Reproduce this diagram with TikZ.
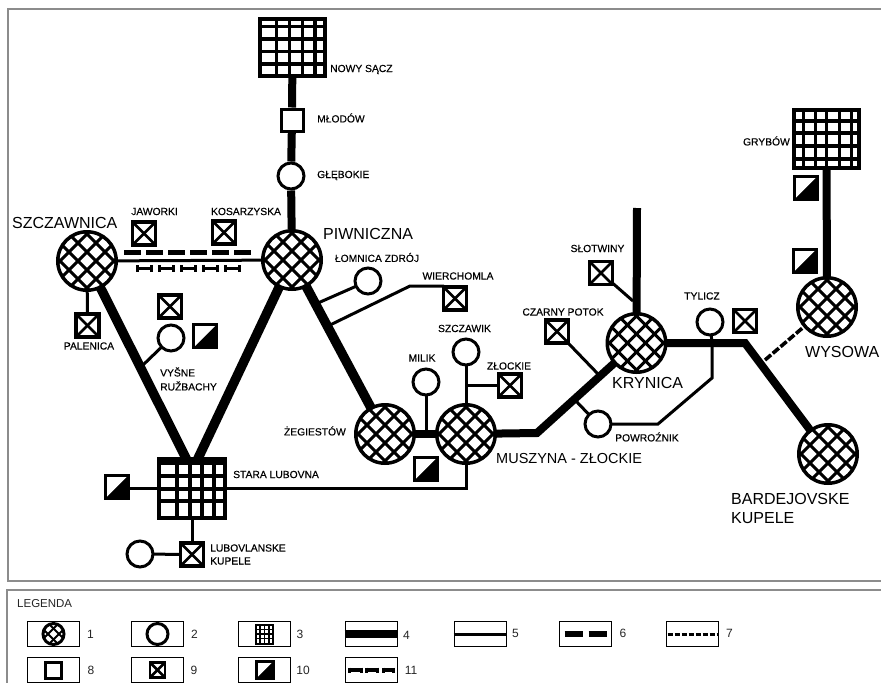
\documentclass[tikz,border=0pt]{standalone}
\usepackage{fontspec}
\setmainfont{Liberation Sans}
\newfontfamily\labfont{Liberation Sans}[FakeBold=0.35]
\usetikzlibrary{backgrounds}
\newcommand{\gridlines}[2]{%
  \foreach \gx in {#1}{\draw[line width=3.2pt,black] ([xshift=\gx pt]path picture bounding box.north) -- ([xshift=\gx pt]path picture bounding box.south);}%
  \foreach \gy in {#2}{\draw[line width=3.2pt,black] ([yshift=-\gy pt]path picture bounding box.west) -- ([yshift=-\gy pt]path picture bounding box.east);}%
}
\newcommand{\hatchlines}[3]{%
  \foreach \ho in {#1}{%
    \pgfmathsetmacro{\hl}{\ho-#3}\pgfmathsetmacro{\hr}{\ho+#3}%
    \draw[line width=#2,black] ([xshift=\hl pt,yshift=-#3 pt]path picture bounding box.center) -- ([xshift=\hr pt,yshift=#3 pt]path picture bounding box.center);
    \draw[line width=#2,black] ([xshift=\hl pt,yshift=#3 pt]path picture bounding box.center) -- ([xshift=\hr pt,yshift=-#3 pt]path picture bounding box.center);
  }%
}
\tikzset{
  x=1pt,y=-1pt,
  hcirc/.style={circle,draw,fill=white,line width=3.5pt,minimum size=58.5pt,inner sep=0pt,
    path picture={\hatchlines{-45,-27,-9,9,27,45}{3pt}{50}}},
  lhcirc/.style={circle,draw,fill=white,line width=3pt,minimum size=21pt,inner sep=0pt,
    path picture={\hatchlines{-16,-5.5,5.5,16}{1.8pt}{20}}},
  ocirc/.style={circle,draw,fill=white,line width=3pt,minimum size=26pt,inner sep=0pt},
  lcirc/.style={circle,draw,fill=white,line width=3pt,minimum size=21pt,inner sep=0pt},
  gridbox/.style n args={4}{rectangle,draw,fill=white,line width=4pt,minimum width=#1pt,minimum height=#2pt,inner sep=0pt,
    path picture={\gridlines{#3}{#4}}},
  lgrid/.style={rectangle,draw,fill=white,line width=2pt,minimum width=17pt,minimum height=19pt,inner sep=0pt,
    path picture={\foreach \gq in {-4.5,0,4.5}{\draw[line width=1.2pt] ([xshift=\gq pt]path picture bounding box.north) -- ([xshift=\gq pt]path picture bounding box.south);
      \draw[line width=1.2pt] ([yshift=\gq pt]path picture bounding box.west) -- ([yshift=\gq pt]path picture bounding box.east);}}},
  osq/.style={rectangle,draw,fill=white,line width=3pt,minimum size=21pt,inner sep=0pt},
  xsq/.style={rectangle,draw,fill=white,line width=3.5pt,minimum size=#1,inner sep=0pt,
    path picture={\draw[line width=2.6pt] (path picture bounding box.north west) -- (path picture bounding box.south east);
      \draw[line width=2.6pt] (path picture bounding box.north east) -- (path picture bounding box.south west);}},
  xsq/.default=23pt,
  hsq/.style={rectangle,draw,fill=black,line width=3pt,minimum size=#1,inner sep=0pt,
    path picture={\fill[white] (path picture bounding box.north west) -- (path picture bounding box.north east) -- (path picture bounding box.south west) -- cycle;}},
  hsq/.default=23pt,
  lbox/.style={rectangle,draw,fill=white,line width=1.1pt,minimum width=52.5pt,minimum height=24.5pt,inner sep=0pt},
  smalltext/.style={inner sep=0pt,font=\labfont\fontsize{10.3}{12}\selectfont},
  bigtext/.style={inner sep=0pt,font=\fontsize{16}{19}\selectfont},
  legtext/.style={inner sep=0pt,font=\fontsize{12}{14}\selectfont,text=black!85},
  heavy/.style={line width=9.5pt,line join=miter},
  medium/.style={line width=8pt,line join=miter},
  thinline/.style={line width=3pt,line join=miter},
  frameline/.style={draw=black!45,line width=1.4pt},
  bone/.style={line width=3pt},
}
\newcommand{\bonemark}[4]{%
  \draw[bone,line width=3.6pt] (#1,#3) -- (#2,#3);
  \draw[bone] (#1,#3-#4) -- (#1,#3+#4);
  \draw[bone] (#2,#3-#4) -- (#2,#3+#4);
}
\begin{document}
\begin{tikzpicture}
\useasboundingbox (0,0) rectangle (881,683);
\begin{scope}[on background layer]
\fill[white] (0,0) rectangle (881,683);
\end{scope}
% frames
\draw[frameline] (881,9) -- (8,9) -- (8,581) -- (881,581);
\draw[frameline] (881,590) -- (7,590) -- (7,683);

% towns
\node[gridbox={65}{57}{-16,-3,10,22.5}{-20.5,-8,4.5,17}] (nowysacz) at (292.5,47) {};
\node[gridbox={65}{58}{-23,-11,0,13,25}{-18,-6,7,20}] (grybow) at (826.5,139) {};
\node[gridbox={66}{59}{-15,-2,10,22}{-25,-12,1,13}] (stara) at (192,488) {};
\node[osq,minimum size=22pt] (mlodow) at (292,120) {};
\node[ocirc] (glebokie) at (291,176) {};
\node[hcirc] (piwniczna) at (292,260) {};
\node[hcirc] (szczawnica) at (87,261) {};
\node[xsq] (jaworki) at (144,233.5) {};
\node[xsq] (kosarzyska) at (224,232.5) {};
\node[xsq] (palenica) at (87.5,325.5) {};
\node[xsq] (vysnesq) at (170,306.5) {};
\node[ocirc] (vysne) at (171,338) {};
\node[hsq] (vysnehalf) at (205,336) {};
\node[hsq] (starahalf) at (116.5,487) {};
\node[xsq] (lubovlanske) at (192,554.5) {};
\node[ocirc] (lubovcirc) at (140,554) {};
\node[ocirc] (lomnica) at (368,281) {};
\node[xsq] (wierchomla) at (455,298.5) {};
\node[hcirc] (zegiestow) at (385,434) {};
\node[hcirc] (muszyna) at (466,434) {};
\node[ocirc] (milik) at (426,382) {};
\node[ocirc] (szczawik) at (466,352) {};
\node[xsq] (zlockie) at (510,385.5) {};
\node[hsq] (zeghalf) at (425.5,469) {};
\node[hcirc] (krynica) at (636.5,343) {};
\node[xsq] (slotwiny) at (601,273) {};
\node[xsq] (czarny) at (557,331.5) {};
\node[ocirc] (powroznik) at (598,424) {};
\node[ocirc] (tylicz) at (710,322) {};
\node[xsq] (tyliczsq) at (745,321) {};
\node[hcirc] (wysowa) at (827,307) {};
\node[hcirc] (bardejov) at (828,454) {};
\node[hsq] (grybhalfa) at (806,187.5) {};
\node[hsq] (grybhalfb) at (805,260.5) {};

% free ends and bends
\coordinate (bendeast) at (745,343);
\coordinate (bendsouth) at (537,433);
\coordinate (northend) at (637,208);
\coordinate (junwysowa) at (765,360);
\coordinate (junvysne) at (143,365);
\coordinate (junlomnica) at (318,303);
\coordinate (junwier) at (328,326);
\coordinate (bendwier) at (410,286);
\coordinate (wierend) at (444,286);
\coordinate (zlockiejun) at (466,385.5);
\coordinate (starabend) at (466,488);
\coordinate (starawest) at (116.5,488);
\coordinate (junczarny) at (598,374);
\coordinate (junslot) at (633,301);
\coordinate (junpowr) at (575,400);
\coordinate (powrbenda) at (658,424);
\coordinate (powrbendb) at (712,378);
\coordinate (tylend) at (712,343);
\coordinate (milikjun) at (426,434);
\coordinate (zegjun) at (385,434);

\begin{scope}[on background layer]
  \draw[line width=8pt] (nowysacz) -- (mlodow);
  \draw[line width=8pt] (mlodow) -- (glebokie);
  \draw[line width=8pt] (glebokie) -- (piwniczna);
  \draw[line width=3pt] (szczawnica) -- (piwniczna);
  \draw[heavy] (szczawnica.center) -- ([xshift=9pt]stara.center);
  \draw[heavy] (piwniczna.center) -- ([xshift=-8pt]stara.center);
  \draw[heavy] (piwniczna.center) -- (zegiestow.center);
  \draw[medium] (zegiestow.center) -- (muszyna.center);
  \draw[medium] (muszyna.center) -- (bendsouth) -- (krynica.center);
  \draw[medium] (krynica.center) -- (northend);
  \draw[medium] (krynica.center) -- (bendeast) -- (bardejov.center);
  \draw[medium] (grybow.center) -- (wysowa.center);
  \draw[thinline] (szczawnica.center) -- (palenica.center);
  \draw[thinline] (vysne.center) -- (junvysne);
  \draw[thinline] (starawest) -- (stara.center);
  \draw[thinline] (stara.center) -- (lubovlanske.center);
  \draw[thinline] (lubovcirc.center) -- (lubovlanske.center);
  \draw[thinline] (lomnica.center) -- (junlomnica);
  \draw[thinline] (junwier) -- (bendwier) -- (wierend);
  \draw[thinline] (milik.center) -- (milikjun);
  \draw[thinline] (szczawik.center) -- (muszyna.center);
  \draw[thinline] (zlockiejun) -- (zlockie.center);
  \draw[thinline] (stara.center) -- (starabend) -- (muszyna.center);
  \draw[thinline] (slotwiny.center) -- (junslot);
  \draw[thinline] (czarny.center) -- (junczarny);
  \draw[thinline] (junpowr) -- (powroznik.center);
  \draw[thinline] (powroznik.center) -- (powrbenda) -- (powrbendb) -- (tylend);
  \draw[thinline] (tylicz.center) -- (tylend);
\end{scope}
\draw[line width=3.6pt,dash pattern=on 8pt off 2.2pt] (junwysowa) -- (wysowa);

% border crossing symbols
\draw[line width=5pt,dash pattern=on 17pt off 5pt] (124,252.5) -- (252,252.5);
\foreach \bx in {137,159,181,203,225}{\bonemark{\bx}{\bx+14.5}{268.5}{3.2}}

% labels
\node[smalltext,anchor=west] (lnowy) at (330,69.5) {NOWY SĄCZ};
\node[smalltext,anchor=west] (lmlodow) at (317,118) {MŁODÓW};
\node[smalltext,anchor=west] (lgleb) at (317,175.5) {GŁĘBOKIE};
\node[smalltext] (ljaw) at (154.5,211.5) {JAWORKI};
\node[smalltext] (lkos) at (246,211.5) {KOSARZYSKA};
\node[bigtext,anchor=west] (lszcz) at (12,222.5) {SZCZAWNICA};
\node[bigtext,anchor=west] (lpiw) at (323,234) {PIWNICZNA};
\node[smalltext] (lpal) at (89,346) {PALENICA};
\node[smalltext,anchor=west] (lvys) at (160,372) {VYŠNE};
\node[smalltext,anchor=west] (lruz) at (160,386) {RUŽBACHY};
\node[smalltext,anchor=west] (lstara) at (233,474.5) {STARA LUBOVNA};
\node[smalltext,anchor=west] (llubo) at (210,548) {LUBOVLANSKE};
\node[smalltext,anchor=west] (lkup) at (210,561) {KUPELE};
\node[smalltext] (llom) at (377,257.5) {ŁOMNICA ZDRÓJ};
\node[smalltext] (lwier) at (458,276) {WIERCHOMLA};
\node[smalltext] (lszcw) at (464.5,328.5) {SZCZAWIK};
\node[smalltext] (lmil) at (422,358) {MILIK};
\node[smalltext] (lzlo) at (509,366) {ZŁOCKIE};
\node[smalltext,anchor=east] (lzeg) at (346,431) {ŻEGIESTÓW};
\node[bigtext,anchor=west,font=\fontsize{14.5}{17}\selectfont] (lmus) at (496,459) {MUSZYNA - ZŁOCKIE};
\node[bigtext,anchor=west] (lkry) at (612,383) {KRYNICA};
\node[bigtext,anchor=west] (lwys) at (805,352) {WYSOWA};
\node[bigtext,anchor=west] (lbar) at (731,499) {BARDEJOVSKE};
\node[bigtext,anchor=west] (lbku) at (731,518) {KUPELE};
\node[smalltext,anchor=east] (lgry) at (790,141) {GRYBÓW};
\node[smalltext] (lslo) at (597.5,248.5) {SŁOTWINY};
\node[smalltext] (lcza) at (563,312) {CZARNY POTOK};
\node[smalltext] (ltyl) at (702,296) {TYLICZ};
\node[smalltext,anchor=west] (lpow) at (615,437) {POWROŹNIK};

% legend
\node[legtext,anchor=west,font=\fontsize{11.5}{14}\selectfont] (lleg) at (17,603.5) {LEGENDA};
\node[lbox] (b1) at (53.5,634) {};
\node[lbox] (b2) at (157.5,634) {};
\node[lbox] (b3) at (264.5,634) {};
\node[lbox] (b4) at (371.5,634) {};
\node[lbox] (b5) at (480.5,634) {};
\node[lbox] (b6) at (585.5,634) {};
\node[lbox] (b7) at (692.5,634) {};
\node[lbox] (b8) at (53.5,670) {};
\node[lbox] (b9) at (157.5,670) {};
\node[lbox] (b10) at (264.5,670) {};
\node[lbox] (b11) at (371.5,670) {};
\node[lhcirc] (i1) at (b1) {};
\node[lcirc] (i2) at (b2) {};
\node[lgrid] (i3) at (b3) {};
\draw[line width=8pt] (b4.west) -- (b4.east);
\draw[line width=3pt] (b5.west) -- (b5.east);
\draw[line width=6pt,dash pattern=on 18pt off 6pt] ([xshift=6pt]b6.west) -- ([xshift=-5pt]b6.east);
\draw[line width=3pt,dash pattern=on 5pt off 2pt] ([xshift=2pt]b7.west) -- ([xshift=-2pt]b7.east);
\node[osq,minimum size=16pt] (i8) at (b8) {};
\node[xsq=15pt,line width=2.5pt] (i9) at (b9) {};
\node[hsq=17pt] (i10) at (b10) {};
\bonemark{349}{361}{670}{2.5}
\bonemark{366}{377}{670}{2.5}
\bonemark{383}{393}{670}{2.5}
\node[legtext] (n1) at (90.5,634.5) {1};
\node[legtext] (n2) at (194.5,634.5) {2};
\node[legtext] (n3) at (300,634.5) {3};
\node[legtext] (n4) at (406.5,635) {4};
\node[legtext] (n5) at (515.5,633.5) {5};
\node[legtext] (n6) at (623,633) {6};
\node[legtext] (n7) at (729.5,633.5) {7};
\node[legtext] (n8) at (91,670) {8};
\node[legtext] (n9) at (194,670) {9};
\node[legtext] (n10) at (303,670) {10};
\node[legtext] (n11) at (411,670) {11};
\end{tikzpicture}
\end{document}
